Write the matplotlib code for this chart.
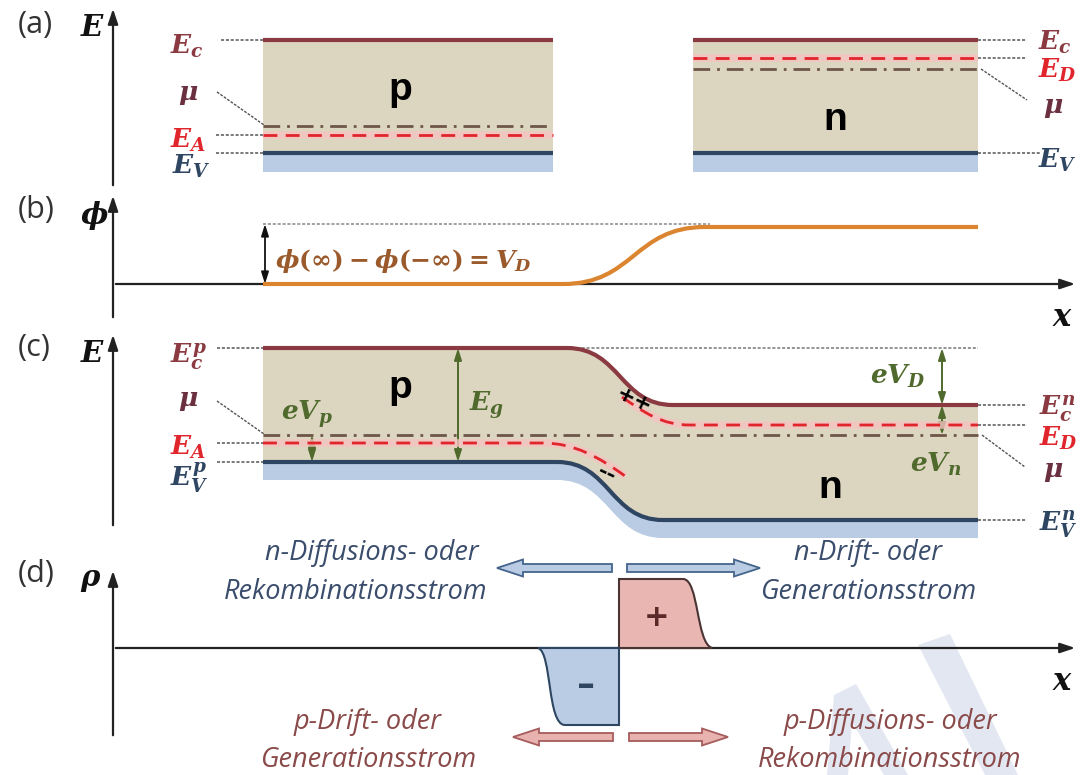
import matplotlib
matplotlib.use('Agg')
import matplotlib.pyplot as plt
from matplotlib.path import Path
from matplotlib.patches import PathPatch, Polygon, FancyArrow

plt.rcParams['mathtext.fontset'] = 'custom'
plt.rcParams['mathtext.rm'] = 'DejaVu Serif:bold'
plt.rcParams['mathtext.it'] = 'DejaVu Serif:italic:bold'
plt.rcParams['mathtext.bf'] = 'DejaVu Serif:italic:bold'

# colours
C_EC = '#8a3a40'
C_EV = '#2f4662'
C_RED = '#e0262c'
C_MU = '#6a3040'
C_MULINE = '#6e5548'
C_TAN = '#dcd6c0'
C_BLUE = '#b9cce4'
C_GREEN = '#4f6a2c'
C_ORANGE = '#dc8530'
C_BROWN = '#9a5a2c'
C_NTXT = '#3b4d6c'
C_PTXT = '#8b4a4a'
C_POS = '#e9b6b2'

# ---- level values (energy in screen units, top = 0) ----
# (a) flat bands
a_p_x = [263, 553]
a_n_x = [693, 978]
a_Ec = 40
a_Ev = 153
a_p_mu = 126
a_EA = 135
a_ED = 58
a_n_mu = 69
band_depth = 19

# (b) potential
phi_x = [263, 563, 705, 978]
phi_low = 284
phi_high = 227
phi_ref_end = 710

# (c) bent bands: x_left, bend start, bend end, x_right, level left, level right
c_Ec = [263, 567, 673, 978, 348, 405]
c_Ev = [263, 557, 663, 978, 462, 520]
c_mu = 435
c_EA = [263, 543, 625, 443, 476]
c_ED = [622, 690, 978, 397, 425]

# (d) space charge
rho_zero = 648
rho_pos = [619, 683, 712, 579]
rho_neg = [538, 565, 619, 725]

LBL = 19


def bent_path(x0, xb0, xb1, x1, y0, y1):
    xm = (xb0 + xb1) / 2
    verts = [(x0, y0), (xb0, y0), (xm, y0), (xm, y1), (xb1, y1), (x1, y1)]
    codes = [Path.MOVETO, Path.LINETO, Path.CURVE4, Path.CURVE4, Path.CURVE4, Path.LINETO]
    return verts, codes


def reverse(verts, codes):
    return verts[::-1], [Path.MOVETO] + codes[1:][::-1]


def fill_between_paths(ax, top, bottom, color):
    tv, tc = top
    bv, bc = reverse(*bottom)
    verts = tv + bv + [tv[0]]
    codes = tc + [Path.LINETO] + bc[1:] + [Path.CLOSEPOLY]
    ax.add_patch(PathPatch(Path(verts, codes), fc=color, ec='none', zorder=1))


def leader(ax, x0, x1, y):
    ax.plot([x0, x1], [y, y], color='#555555', lw=1.1, ls=(0, (2, 1.2)), zorder=3)


def vaxis(ax, y0, y1):
    ax.annotate('', xy=(113, y1), xytext=(113, y0),
                arrowprops=dict(arrowstyle='-|>,head_length=0.9,head_width=0.3', color='#222222', lw=1.6))


def haxis(ax, y):
    ax.annotate('', xy=(1078, y), xytext=(113, y),
                arrowprops=dict(arrowstyle='-|>,head_length=0.9,head_width=0.3', color='#222222', lw=1.6))


def dbl(ax, x, y0, y1, color, lw=1.4):
    ax.annotate('', xy=(x, y1), xytext=(x, y0),
                arrowprops=dict(arrowstyle='<|-|>,head_length=0.7,head_width=0.22',
                                color=color, lw=lw, shrinkA=0, shrinkB=0))


def lbl(ax, x, y, s, color, size=LBL, ha='left'):
    ax.text(x, y, s, color=color, fontsize=size, ha=ha, va='center')


def red_dash(ax, xs, ys, path=None):
    if path is not None:
        for lw, col, ls in [(5.5, '#f6c4c0', '-'), (2.0, C_RED, (0, (5, 3)))]:
            ax.add_patch(PathPatch(path, fc='none', ec=col, lw=lw, ls=ls, zorder=4,
                                   alpha=0.8 if lw > 3 else 1))
    else:
        ax.plot(xs, ys, color='#f6c4c0', lw=5.5, alpha=0.8, zorder=4, solid_capstyle='butt')
        ax.plot(xs, ys, color=C_RED, lw=2.0, ls=(0, (5, 3)), zorder=4)


def mu_line(ax, xs, y):
    ax.plot(xs, [y, y], color=C_MULINE, lw=2.0, ls=(0, (6, 2.5, 1, 2.5)), zorder=4)


fig = plt.figure(figsize=(10.84, 7.75), dpi=100)
ax = fig.add_axes([0, 0, 1, 1])
ax.set_xlim(0, 1084)
ax.set_ylim(775, 0)
ax.axis('off')

# light watermark strokes
for pts in [[(918, 645), (950, 634), (1018, 775), (985, 775)],
            [(827, 775), (834, 695), (856, 684), (908, 775), (884, 775), (852, 722), (848, 775)]]:
    ax.add_patch(Polygon(pts, closed=True, fc='#e3e7f1', ec='none', zorder=0))

# panel letters and axis symbols
for y, s in [(25, '(a)'), (210, '(b)'), (348, '(c)'), (574, '(d)')]:
    ax.text(18, y, s, fontsize=22, family='Open Sans', color='#333333', va='center')
for y, s in [(28, '$E$'), (215, r'$\phi$'), (354, '$E$'), (580, r'$\rho$')]:
    ax.text(80, y, s, fontsize=21, color='#111111', va='center')

# ---------------- (a) ----------------
vaxis(ax, 188, 6)
for xs in (a_p_x, a_n_x):
    ax.fill_between(xs, a_Ec, a_Ev, color=C_TAN, zorder=1, lw=0)
    ax.fill_between(xs, a_Ev, a_Ev + band_depth, color=C_BLUE, zorder=1, lw=0)
    ax.plot(xs, [a_Ec, a_Ec], color=C_EC, lw=3, zorder=5, solid_capstyle='butt')
    ax.plot(xs, [a_Ev, a_Ev], color=C_EV, lw=3, zorder=5, solid_capstyle='butt')
mu_line(ax, a_p_x, a_p_mu)
red_dash(ax, a_p_x, [a_EA, a_EA])
red_dash(ax, a_n_x, [a_ED, a_ED])
mu_line(ax, a_n_x, a_n_mu)
ax.text(400, 90, 'p', fontsize=28, fontweight='bold', family='Liberation Sans', ha='center', va='center')
ax.text(835, 120, 'n', fontsize=28, fontweight='bold', family='Liberation Sans', ha='center', va='center')

leader(ax, 221, a_p_x[0], a_Ec)
leader(ax, 216, a_p_x[0], a_EA)
leader(ax, 216, a_p_x[0], a_Ev)
ax.plot([217, 264], [92, a_p_mu - 1], color='#555555', lw=1, ls=(0, (2, 1)), zorder=3)
lbl(ax, 170, 46, '$E_c$', C_EC)
lbl(ax, 178, 94, r'$\mu$', C_MU)
lbl(ax, 170, 140, '$E_A$', C_RED)
lbl(ax, 172, 166, '$E_V$', C_EV)

leader(ax, a_n_x[1], 1027, a_Ec)
leader(ax, a_n_x[1], 1027, a_ED)
leader(ax, a_n_x[1], 1040, a_Ev)
ax.plot([981, 1027], [a_n_mu, 100], color='#555555', lw=1, ls=(0, (2, 1)), zorder=3)
lbl(ax, 1038, 42, '$E_c$', C_EC)
lbl(ax, 1038, 70, '$E_D$', C_RED)
lbl(ax, 1043, 107, r'$\mu$', C_MU)
lbl(ax, 1038, 160, '$E_V$', C_EV)

# ---------------- (b) ----------------
vaxis(ax, 320, 193)
haxis(ax, phi_low)
ax.plot([phi_x[0], phi_ref_end], [phi_high - 3, phi_high - 3], color='#888888', lw=1.1,
        ls=(0, (2, 1.2)), zorder=3)
pv, pc = bent_path(phi_x[0], phi_x[1], phi_x[2], phi_x[3], phi_low, phi_high)
ax.add_patch(PathPatch(Path(pv, pc), fc='none', ec=C_ORANGE, lw=3, zorder=5))
dbl(ax, 265, phi_high - 3, phi_low, '#111111', lw=1.3)
ax.text(275, 261, r'$\phi(\infty)-\phi(-\infty)=V_D$', fontsize=18, color=C_BROWN, va='center')
ax.text(1062, 318, '$x$', fontsize=22, color='#111111', ha='center', va='center')

# ---------------- (c) ----------------
vaxis(ax, 528, 332)
ec_path = bent_path(*c_Ec)
ev_path = bent_path(*c_Ev)
ev_low = bent_path(*(c_Ev[:4] + [c_Ev[4] + 18, c_Ev[5] + 18]))
fill_between_paths(ax, ec_path, ev_path, C_TAN)
fill_between_paths(ax, ev_path, ev_low, C_BLUE)
ax.add_patch(PathPatch(Path(*ec_path), fc='none', ec=C_EC, lw=3, zorder=5))
ax.add_patch(PathPatch(Path(*ev_path), fc='none', ec=C_EV, lw=3, zorder=5))

mu_line(ax, [c_Ec[0], c_Ec[3]], c_mu)
ea_v = [(c_EA[0], c_EA[3]), (c_EA[1], c_EA[3]), (575, c_EA[3]), (600, 458), (c_EA[2], c_EA[4])]
ea_c = [Path.MOVETO, Path.LINETO, Path.CURVE4, Path.CURVE4, Path.CURVE4]
red_dash(ax, None, None, Path(ea_v, ea_c))
ed_v = [(c_ED[0], c_ED[3]), (645, 413), (662, c_ED[4]), (c_ED[1], c_ED[4]), (c_ED[2], c_ED[4])]
ed_c = [Path.MOVETO, Path.CURVE4, Path.CURVE4, Path.CURVE4, Path.LINETO]
red_dash(ax, None, None, Path(ed_v, ed_c))
ax.text(634, 400, '++', fontsize=16, fontweight='bold', ha='center', va='center', rotation=-25, zorder=6)
ax.text(607, 474, '--', fontsize=16, fontweight='bold', ha='center', va='center', rotation=-25, zorder=6)

ax.text(400, 388, 'p', fontsize=28, fontweight='bold', family='Liberation Sans', ha='center', va='center')
ax.text(830, 488, 'n', fontsize=28, fontweight='bold', family='Liberation Sans', ha='center', va='center')

# gap arrows
dbl(ax, 458, c_Ec[4], c_Ev[4], C_GREEN)
ax.text(469, 405, '$E_g$', fontsize=LBL, color=C_GREEN, va='center')
dbl(ax, 312, c_mu, c_Ev[4], C_GREEN)
ax.text(281, 414, '$eV_p$', fontsize=LBL, color=C_GREEN, va='center')
ax.plot([c_Ec[1], c_Ec[3]], [c_Ec[4], c_Ec[4]], color='#777777', lw=1.1, ls=(0, (2, 1.2)), zorder=3)
dbl(ax, 942, c_Ec[4], c_Ec[5], C_GREEN)
ax.text(870, 376, '$eV_D$', fontsize=LBL, color=C_GREEN, va='center')
dbl(ax, 942, c_Ec[5], c_mu, C_GREEN)
ax.text(910, 464, '$eV_n$', fontsize=LBL, color=C_GREEN, va='center')

leader(ax, 217, c_Ec[0], c_Ec[4])
leader(ax, 217, c_Ec[0], c_EA[3])
leader(ax, 217, c_Ec[0], c_Ev[4])
ax.plot([217, 264], [401, c_mu - 1], color='#555555', lw=1, ls=(0, (2, 1)), zorder=3)
lbl(ax, 170, 356, '$E_c^p$', C_EC)
lbl(ax, 178, 400, r'$\mu$', C_MU)
lbl(ax, 170, 447, '$E_A$', C_RED)
lbl(ax, 170, 478, '$E_V^p$', C_EV)

leader(ax, c_Ec[3], 1027, c_Ec[5])
leader(ax, c_Ec[3], 1027, c_ED[4])
leader(ax, c_Ec[3], 1027, c_Ev[5])
ax.plot([982, 1025], [c_mu, 467], color='#555555', lw=1, ls=(0, (2, 1)), zorder=3)
lbl(ax, 1039, 408, '$E_c^n$', C_EC)
lbl(ax, 1039, 438, '$E_D$', C_RED)
lbl(ax, 1043, 471, r'$\mu$', C_MU)
lbl(ax, 1039, 525, '$E_V^n$', C_EV)

# ---------------- (d) ----------------
vaxis(ax, 738, 568)
haxis(ax, rho_zero)
x0, xr, xe, top = rho_pos
pos_v = [(x0, rho_zero), (x0, top), (xr, top), (xr + 16, top), (xr + 13, rho_zero - 5),
         (xe, rho_zero), (x0, rho_zero)]
pos_c = [Path.MOVETO, Path.LINETO, Path.LINETO, Path.CURVE4, Path.CURVE4, Path.CURVE4, Path.CLOSEPOLY]
ax.add_patch(PathPatch(Path(pos_v, pos_c), fc=C_POS, ec='#4a3434', lw=1.5, zorder=3))
xs, xc, x1, bot = rho_neg
neg_v = [(xs, rho_zero), (xs + 14, rho_zero + 4), (xs + 9, bot), (xc, bot), (x1, bot),
         (x1, rho_zero), (xs, rho_zero)]
neg_c = [Path.MOVETO, Path.CURVE4, Path.CURVE4, Path.CURVE4, Path.LINETO, Path.LINETO, Path.CLOSEPOLY]
ax.add_patch(PathPatch(Path(neg_v, neg_c), fc=C_BLUE, ec=C_EV, lw=1.5, zorder=3))
ax.text(657, 618, '+', fontsize=22, fontweight='bold', color='#5a2a2a', ha='center', va='center', zorder=6)
ax.text(586, 686, '\u2013', fontsize=26, fontweight='bold', color=C_EV, ha='center', va='center', zorder=6)

# current arrows: (tail, tip, y)
n_arrows = [(612, 497, 568), (627, 760, 568)]
p_arrows = [(613, 513, 737), (629, 728, 737)]
for arrows, fc, ec in [(n_arrows, C_BLUE, '#45648c'), (p_arrows, '#e8b2ae', '#a65c5c')]:
    for xt, xh, y in arrows:
        ax.add_patch(FancyArrow(xt, y, xh - xt, 0, width=8, head_width=17, head_length=26,
                                length_includes_head=True, fc=fc, ec=ec, lw=1.3, zorder=4))

tfont = dict(fontsize=19.5, family='Open Sans', style='italic', ha='center', va='center')
ax.text(372, 553, 'n-Diffusions- oder', color=C_NTXT, **tfont)
ax.text(356, 592, 'Rekombinationsstrom', color=C_NTXT, **tfont)
ax.text(868, 553, 'n-Drift- oder', color=C_NTXT, **tfont)
ax.text(868, 592, 'Generationsstrom', color=C_NTXT, **tfont)
ax.text(368, 722, 'p-Drift- oder', color=C_PTXT, **tfont)
ax.text(368, 760, 'Generationsstrom', color=C_PTXT, **tfont)
ax.text(890, 722, 'p-Diffusions- oder', color=C_PTXT, **tfont)
ax.text(890, 760, 'Rekombinationsstrom', color=C_PTXT, **tfont)
ax.text(1062, 682, '$x$', fontsize=22, color='#111111', ha='center', va='center')

fig.savefig('out.png', dpi=100)
